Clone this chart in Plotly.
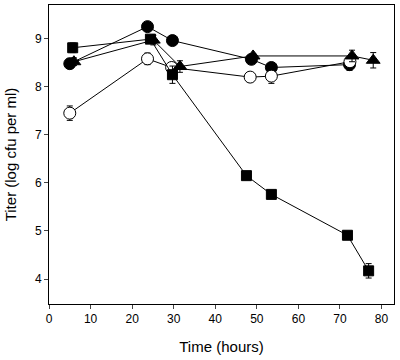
import plotly.graph_objects as go

# Filled circles
fc_x = [5, 23.7, 29.7, 48.7, 53.5, 72.3]
fc_y = [8.48, 9.25, 8.96, 8.57, 8.40, 8.46]
fc_e = [0.1, 0.05, 0.05, 0.05, 0.05, 0.12]
# Open circles
oc_x = [5, 23.7, 29.5, 48.4, 53.5, 72.4]
oc_y = [7.45, 8.58, 8.40, 8.20, 8.22, 8.52]
oc_e = [0.15, 0.12, 0.1, 0.1, 0.15, 0.1]
# Squares
sq_x = [5.7, 24.4, 29.7, 47.5, 53.5, 71.8, 76.9]
sq_y = [8.81, 8.99, 8.25, 6.15, 5.76, 4.91, 4.17]
sq_e = [0.1, 0.05, 0.18, 0.03, 0.03, 0.05, 0.15]
# Triangles
tr_x = [6.0, 25.1, 31.5, 49.1, 72.9, 78.0]
tr_y = [8.52, 8.97, 8.42, 8.64, 8.64, 8.55]
tr_e = [0.08, 0.1, 0.12, 0.05, 0.12, 0.16]

x_ticks = [0, 10, 20, 30, 40, 50, 60, 70, 80]
y_ticks = [4, 5, 6, 7, 8, 9]

fig = go.Figure()

def add(x, y, e, symbol, color, size):
    fig.add_trace(go.Scatter(
        x=x, y=y, mode="lines+markers",
        line=dict(color="black", width=1),
        marker=dict(symbol=symbol, size=size, color=color,
                    line=dict(color="black", width=1)),
        error_y=dict(type="data", array=e, color="black", thickness=1, width=3),
        showlegend=False))

add(fc_x, fc_y, fc_e, "circle", "black", 12)
add(oc_x, oc_y, oc_e, "circle", "white", 12)
add(sq_x, sq_y, sq_e, "square", "black", 10)
add(tr_x, tr_y, tr_e, "triangle-up", "black", 12)

fig.update_layout(
    width=400, height=360,
    margin=dict(l=49, r=6, t=5, b=56),
    plot_bgcolor="white", paper_bgcolor="white",
    font=dict(family="Liberation Sans, Arial", color="black", size=12),
    xaxis=dict(range=[0, 83], tickvals=x_ticks, ticks="outside", ticklen=4,
               automargin=False,
               showline=True, linecolor="black", linewidth=1, mirror=True,
               showgrid=False, zeroline=False,
               title=dict(text="Time (hours)", font=dict(size=15), standoff=16)),
    yaxis=dict(range=[3.48, 9.7], tickvals=y_ticks, ticks="outside", ticklen=4,
               automargin=False,
               showline=True, linecolor="black", linewidth=1, mirror=True,
               showgrid=False, zeroline=False,
               title=dict(text="Titer (log cfu per ml)", font=dict(size=15), standoff=14)),
)

fig.write_html("out.html", config={"displayModeBar": False},
               post_script="document.body.style.margin='0';")
